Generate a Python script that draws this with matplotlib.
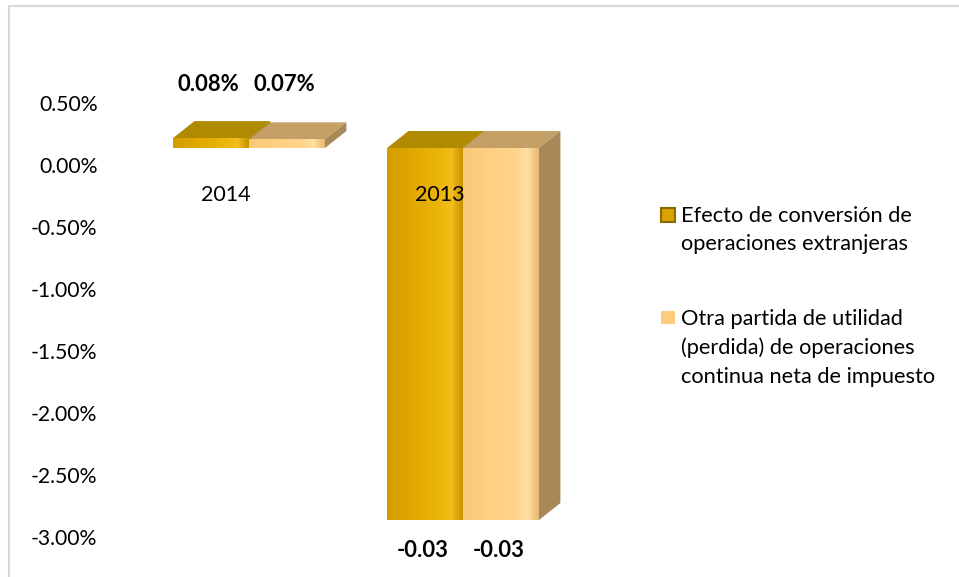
import numpy as np
import matplotlib.pyplot as plt
from matplotlib.patches import Polygon, Rectangle
from matplotlib.colors import LinearSegmentedColormap
from matplotlib.ticker import FuncFormatter, MultipleLocator

plt.rcParams['font.family'] = ['Lato', 'DejaVu Sans']
plt.rcParams['axes.unicode_minus'] = False

# datos (en %)
anios = ["2014", "2013"]
efecto_conversion = [0.08, -3.00]
otra_partida = [0.07, -3.00]
etiquetas_conv = ["0.08%", "-0.03"]
etiquetas_otra = ["0.07%", "-0.03"]
series_nombres = [["Efecto de conversión de", "operaciones extranjeras"],
                  ["Otra partida de utilidad", "(perdida) de operaciones",
                   "continua neta de impuesto"]]

W, H = 959, 577
fig = plt.figure(figsize=(W / 100, H / 100), dpi=100)

# ejes: pixel 110..640 en x, 103..537 en y
ax = fig.add_axes([110 / W, (H - 537) / H, (640 - 110) / W, (537 - 103) / H])
ax.set_xlim(-0.6495, 1.827)
ax.set_ylim(-3.0, 0.5)
for s in ax.spines.values():
    s.set_visible(False)
ax.yaxis.set_major_locator(MultipleLocator(0.5))
ax.yaxis.set_major_formatter(FuncFormatter(lambda v, p: f"{v:.2f}%"))
ax.tick_params(axis='y', length=0, pad=9, labelsize=15.2, labelcolor='#000000')
ax.set_xticks([])

w = 0.355      # ancho barra
dx = 0.10      # profundidad x
dy = 0.137     # profundidad y (%)
base = 0.137   # desplazamiento del plano 3D

estilos = [
    dict(front=['#D49C00', '#E2A900', '#EDB60A', '#F3BE1C', '#C89200'],
         top='#B08A00', side='#9A7800'),
    dict(front=['#F9C878', '#FFD083', '#FFD48A', '#FFE0A4', '#E9B872'],
         top='#C4A066', side='#A88858'),
]

series = [efecto_conversion, otra_partida]
etiquetas = [etiquetas_conv, etiquetas_otra]
grad = np.linspace(0, 1, 200).reshape(1, -1)

for i, anio in enumerate(anios):
    fronts = []
    for j, vals in enumerate(series):
        v = vals[i]
        x0 = i - w + j * w
        x1 = x0 + w
        ytop = base + max(v, 0)
        ybot = base + min(v, 0)
        st = estilos[j]
        ax.add_patch(Polygon([(x0, ytop), (x1, ytop), (x1 + dx, ytop + dy),
                              (x0 + dx, ytop + dy)], closed=True,
                             facecolor=st['top'], edgecolor='none', zorder=2))
        ax.add_patch(Polygon([(x1, ybot), (x1, ytop), (x1 + dx, ytop + dy),
                              (x1 + dx, ybot + dy)], closed=True,
                             facecolor=st['side'], edgecolor='none', zorder=2))
        fronts.append((x0, x1, ybot, ytop, st, v, etiquetas[j][i]))
    for x0, x1, ybot, ytop, st, v, lab in fronts:
        cmap = LinearSegmentedColormap.from_list(
            'g', list(zip([0, 0.35, 0.7, 0.85, 1.0], st['front'])))
        rect = Rectangle((x0, ybot), x1 - x0, ytop - ybot,
                         facecolor='none', edgecolor='none', zorder=3)
        ax.add_patch(rect)
        im = ax.imshow(grad, cmap=cmap, aspect='auto',
                       extent=(x0, x1, ybot, ytop), zorder=3)
        im.set_clip_path(rect)
        xc = (x0 + x1) / 2 - 0.012
        if v >= 0:
            ax.text(xc, 0.653, lab, ha='center', va='center',
                    fontsize=15.8, fontweight='bold', clip_on=False)
        else:
            ax.text(xc, -3.11, lab, ha='center', va='center',
                    fontsize=15.8, fontweight='bold', clip_on=False)
    ax.text(i - 0.107, -0.245, anio, ha='center', va='center', fontsize=15.5,
            zorder=5, clip_on=False)

ax.set_xlim(-0.6495, 1.827)
ax.set_ylim(-3.0, 0.5)

# leyenda manual
def fy(py):
    return 1 - py / H

fig.patches.append(Rectangle((661 / W, fy(222)), 14 / W, 14 / H,
                             transform=fig.transFigure, facecolor='#D9A300',
                             edgecolor='#8A6A00', linewidth=1.5))
fig.patches.append(Rectangle((661 / W, fy(324)), 14 / W, 13 / H,
                             transform=fig.transFigure, facecolor='#FFCC7F',
                             edgecolor='none'))
for k, lin in enumerate(series_nombres[0]):
    fig.text(681 / W, fy(222 + 28 * k), lin, fontsize=15.7, va='baseline',
             ha='left')
for k, lin in enumerate(series_nombres[1]):
    fig.text(681 / W, fy(325 + 29 * k), lin, fontsize=15.7, va='baseline',
             ha='left')

# borde del grafico
fig.patches.append(Rectangle((9 / W, -0.05), 1.0, 1 - 6 / H + 0.05,
                             transform=fig.transFigure, facecolor='none',
                             edgecolor='#D9D9D9', linewidth=1.5))

fig.savefig('out.png', dpi=100)
